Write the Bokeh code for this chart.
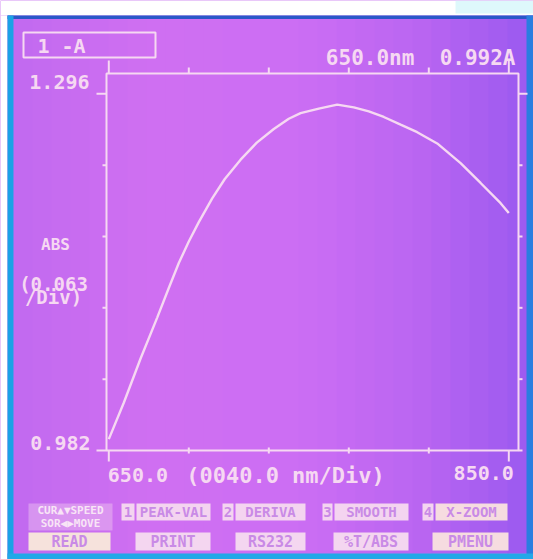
import numpy as np
from bokeh.plotting import figure
from bokeh.models import Range1d, Label, BoxAnnotation
from bokeh.embed import file_html
from bokeh.resources import INLINE

# ---------------- data ----------------
wavelength_nm = [650.0, 657.5, 665.9, 674.2, 680.0, 685.0, 690.0, 695.0, 701.7,
                 708.0, 715.9, 724.0, 732.5, 740.0, 745.9, 755.0, 764.2, 772.5,
                 780.0, 787.5, 795.9, 804.2, 814.2, 825.9, 835.9, 845.9, 850.0]
absorbance = [0.992, 1.024, 1.063, 1.099, 1.125, 1.147, 1.166, 1.183, 1.204,
              1.221, 1.238, 1.253, 1.265, 1.274, 1.279, 1.283, 1.2865, 1.284,
              1.2805, 1.2756, 1.2688, 1.2622, 1.2523, 1.2350, 1.2175, 1.1997, 1.191]
x_lo, x_hi = 650.0, 850.0
y_lo, y_hi = 0.982, 1.296
n_div = 5
x_tick_labels = ["650.0", "850.0"]
y_tick_labels = ["1.296", "0.982"]
x_unit_text = "(0040.0 nm/Div)"
y_unit_lines = ["ABS", "(0.063", "/Div)"]
channel_text = "1 -A"
menu_row1 = ["1", "PEAK-VAL", "2", "DERIVA", "3", "SMOOTH", "4", "X-ZOOM"]
menu_row2 = ["READ", "PRINT", "RS232", "%T/ABS", "PMENU"]
cursor_lines = ["CUR\u25b2\u25bcSPEED", "SOR\u25c0\u25b6MOVE"]

# ---------------- layout / styling ----------------
PALE = "#f6d8f2"
FONT = "DejaVu Sans Mono"
NBSP = "\u00a0"
W, H = 533, 559
PX_LO, PX_HI = 108.3, 508.3       # page x of x_lo / x_hi
PY_LO, PY_HI = 450.0, 93.3        # page y of y_lo / y_hi
kx = (PX_HI - PX_LO) / (x_hi - x_lo)
ky = (PY_LO - PY_HI) / (y_hi - y_lo)
x_start = x_lo - PX_LO / kx
y_start = y_lo - (H - PY_LO) / ky


def dx(px):          # page px -> data x
    return x_start + px / kx


def dy(py):          # page py -> data y
    return y_start + (H - py) / ky


def sy(py):          # page py -> screen units (from bottom)
    return H - py


p = figure(width=W, height=H, output_backend="svg", toolbar_location=None,
           x_range=Range1d(x_start, x_start + W / kx),
           y_range=Range1d(y_start, y_start + H / ky),
           x_axis_location=None, y_axis_location=None,
           min_border=0, min_border_left=0, min_border_right=0,
           min_border_top=0, min_border_bottom=0)
p.grid.visible = False
base = "#c66ef0"
p.background_fill_color = base
p.border_fill_color = base
p.outline_line_color = None


def sbox(l, r, t, b, fill=None, line=None, alpha=1.0, level="annotation", lw=2):
    p.add_layout(BoxAnnotation(left=l, right=r, top=sy(t), bottom=sy(b),
                               left_units="screen", right_units="screen",
                               top_units="screen", bottom_units="screen",
                               fill_color=fill if fill else "white",
                               fill_alpha=alpha if fill else 0,
                               line_color=line, line_alpha=1, line_width=lw, level=level))


# background gradient of the photographed screen (decoration)
stops_x = [13, 150, 300, 420, 526]
stops_c = np.array([[194, 106, 240], [208, 112, 242], [204, 110, 244],
                    [186, 102, 242], [156, 90, 240]], dtype=float)
edges = np.linspace(13, 526, 28)
for a, b in zip(edges[:-1], edges[1:]):
    m = (a + b) / 2
    c = [int(np.interp(m, stops_x, stops_c[:, k])) for k in range(3)]
    sbox(a, b + 1, 18, 553, fill="#%02x%02x%02x" % tuple(c), level="underlay")
# page white and blue bezel
sbox(0, W, 0, 15, fill="white", level="underlay")
sbox(455, W, 0, 13, fill="#d6f6fa", alpha=0.8, level="underlay")
sbox(0, 7, 15, H, fill="white", level="underlay")
sbox(7, W, 15, 18.5, fill="#2a58c8", level="underlay")
sbox(7, 13, 15, H, fill="#1aa2e6", level="underlay")
sbox(526, W, 15, H, fill="#2a7ee0", level="underlay")
sbox(7, W, 553, H, fill="#22a8e8", level="underlay")

# plot frame
frame_l, frame_r, frame_t, frame_b = dx(106), dx(518), dy(73), dy(450)
p.add_layout(BoxAnnotation(left=frame_l, right=frame_r, top=frame_t, bottom=frame_b,
                           fill_alpha=0, line_color=PALE, line_alpha=1, line_width=2))

# ticks (five divisions on each scale)
x_step = (x_hi - x_lo) / n_div
y_step = (y_hi - y_lo) / n_div
x_major = [x_lo, x_hi]
x_minor = [x_lo + k * x_step for k in range(1, n_div)]
y_major = [y_lo, y_hi]
y_minor = [y_lo + k * y_step for k in range(1, n_div)]
tick = dict(line_color=PALE, line_width=2)
p.segment(x0=x_major, y0=frame_t, x1=x_major, y1=frame_t + 13 / ky, **tick)
p.segment(x0=x_minor, y0=frame_t, x1=x_minor, y1=frame_t + 6 / ky, **tick)
p.segment(x0=x_major, y0=frame_b, x1=x_major, y1=frame_b - 11 / ky, **tick)
p.segment(x0=x_minor, y0=frame_b + 3 / ky, x1=x_minor, y1=frame_b - 3 / ky, **tick)
p.segment(x0=frame_l, y0=y_major, x1=frame_l - 10 / kx, y1=y_major, **tick)
p.segment(x0=frame_l, y0=y_minor, x1=frame_l - 4 / kx, y1=y_minor, **tick)
p.segment(x0=frame_r, y0=[y_hi], x1=frame_r + 9 / kx, y1=[y_hi], **tick)
p.segment(x0=frame_r, y0=y_minor + [y_lo], x1=frame_r + 4 / kx, y1=y_minor + [y_lo], **tick)

# spectrum
p.line(wavelength_nm, absorbance, line_color=PALE, line_width=2.4)


def txt(text, x, y, size, align="left", xu="screen", yu="screen", color=PALE,
        xo=0, yo=0, baseline="middle"):
    p.add_layout(Label(x=x, y=y, x_units=xu, y_units=yu, text=text, x_offset=xo, y_offset=yo,
                       text_font=FONT, text_font_style="bold", text_font_size=f"{size}px",
                       text_color=color, text_align=align, text_baseline=baseline))


# header
sbox(23, 155, 32, 57, line=PALE)
txt(channel_text.replace(" ", NBSP), 37, sy(45), 20)
txt(f"{wavelength_nm[0]:.1f}nm{NBSP}{NBSP}{absorbance[0]:.3f}A", 515, sy(57), 21,
    align="right")

# axis value labels
txt(y_tick_labels[0], 89, y_hi, 20, align="right", yu="data", yo=12)
txt(y_tick_labels[1], 90, y_lo, 20, align="right", yu="data", yo=8)
txt(x_tick_labels[0], x_lo, sy(474), 20, align="left", xu="data", xo=-1)
txt(x_tick_labels[1], x_hi, sy(472), 20, align="right", xu="data", xo=5)
txt(x_unit_text.replace(" ", NBSP), 285, sy(475), 22, align="center")
txt(y_unit_lines[0], 55, sy(244), 16, align="center")
txt(y_unit_lines[1], 53, sy(283), 19, align="center")
txt(y_unit_lines[2], 53, sy(296), 19, align="center")

# soft-key menu
row1_pos = [(121, 134), (136, 210), (222, 233), (235, 305), (322, 332), (334, 408),
            (422, 433), (435, 507)]
row2_pos = [(28, 110), (135, 210), (235, 305), (333, 408), (432, 508)]
row1_fill = ["#f4d4f0"] * 7 + ["#f6dce0"]
row2_fill = ["#f6e2dc", "#f4d6f0", "#f4d6f0", "#f4d6f0", "#f6dce0"]
INK = "#c98ae6"
for label, (l, r), f in zip(menu_row1, row1_pos, row1_fill):
    sbox(l, r, 503, 520, fill=f)
    txt(label, (l + r) / 2, sy(511.5), 14, align="center", color=INK)
for label, (l, r), f in zip(menu_row2, row2_pos, row2_fill):
    sbox(l, r, 532, 550, fill=f)
    txt(label, (l + r) / 2, sy(541), 15, align="center", color=INK)
sbox(28, 112, 503, 530, fill="#f0c8f0", alpha=0.45)
txt(cursor_lines[0], 70, sy(510), 11, align="center", color="#f8e4f6")
txt(cursor_lines[1], 70, sy(523), 11, align="center", color="#f8e4f6")

open("out.html", "w").write(file_html(p, INLINE))
